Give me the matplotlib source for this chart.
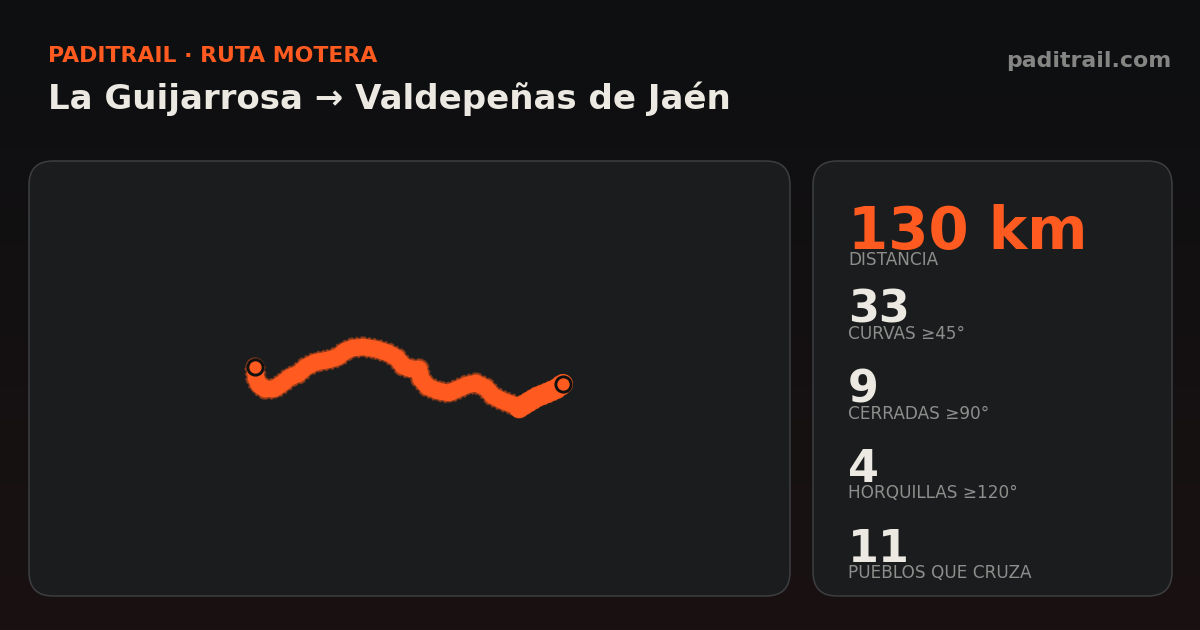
#!/usr/bin/env python3
import numpy as np
import matplotlib
matplotlib.use("Agg")
import matplotlib.pyplot as plt
from matplotlib.patches import FancyBboxPatch

# route, in image pixels
route_x = [255, 256, 259, 265, 274, 283, 290, 298, 306, 316, 328, 338, 345, 353, 363, 376, 388, 397, 403,
           411, 419, 421, 428, 438, 449, 458, 467, 476, 486, 493, 503, 514, 519, 527, 537, 547, 556, 563]
route_y = [367, 378, 385, 389, 389, 383, 377, 374, 367, 362, 360, 357, 351, 348, 347, 349, 353, 358, 366,
           369, 369, 379, 387, 391, 393, 389, 385, 383, 388, 396, 401, 405, 408, 403, 397, 393, 389, 384]

stat_values = ["130 km", "33", "9", "4", "11"]
stat_labels = ["DISTANCIA", "CURVAS ≥45°", "CERRADAS ≥90°", "HORQUILLAS ≥120°", "PUEBLOS QUE CRUZA"]
stat_value_y = [233, 310, 390, 470, 550]
stat_label_y = [260, 334, 414, 493, 573]

ORANGE = "#ff5a1f"
WHITE = "#ece9e2"
GREY = "#8e8e8c"

plt.rcParams['font.family'] = ['DejaVu Sans']

fig = plt.figure(figsize=(12, 6.3), dpi=100)
ax = fig.add_axes([0, 0, 1, 1])
ax.axis("off")

# page background, dark top fading to a warm black
top = np.array([13, 15, 17]) / 255
bottom = np.array([26, 18, 18]) / 255
grad = np.linspace(0, 1, 256)[:, None, None]
ax.imshow(top + (bottom - top) * grad, extent=(0, 1200, 630, 0), aspect="auto", zorder=0)
ax.set_xlim(0, 1200)
ax.set_ylim(630, 0)


def card(x, y, w, h):
    r = 24
    ax.add_patch(FancyBboxPatch((x + r, y + r), w - 2 * r, h - 2 * r,
                                boxstyle="round,pad=%d,rounding_size=%d" % (r, r),
                                fc="#1a1c1e", ec="#3c3e41", lw=1.1, zorder=1))


card(29, 161, 761, 435)
card(813, 161, 359, 435)

ax.text(48, 56, "PADITRAIL · RUTA MOTERA", color=ORANGE, fontsize=15.85, fontweight="bold", va="center")
ax.text(48, 99, "La Guijarrosa → Valdepeñas de Jaén", color=WHITE, fontsize=24.45, fontweight="bold", va="center")
ax.text(1171, 61, "paditrail.com", color="#858584", fontsize=15.8, fontweight="bold", va="center", ha="right")

# route: speckled dark fringe, then a solid core
ax.plot(route_x, route_y, color="#a8431a", lw=15.5, alpha=0.6, ls=(0, (0.12, 0.12)), zorder=2)
ax.plot(route_x, route_y, color="#d9501c", lw=14, alpha=0.5, solid_capstyle="round",
        solid_joinstyle="round", zorder=2)
ax.plot(route_x, route_y, color=ORANGE, lw=12, solid_capstyle="round", solid_joinstyle="round", zorder=3)
ax.plot(route_x[-6:], route_y[-6:], color=ORANGE, lw=14.5, solid_capstyle="round", zorder=3)

# start and end markers
ax.plot([route_x[0], route_x[-1]], [route_y[0], route_y[-1]], "o", ms=11, mfc=ORANGE, mec="#111111", mew=2.1, zorder=4)

for i in range(len(stat_values)):
    size = 41.6 if i == 0 else 32
    ax.text(848, stat_value_y[i], stat_values[i], color=ORANGE if i == 0 else WHITE,
            fontsize=size, fontweight="bold", va="center", zorder=5)
    ax.text(848, stat_label_y[i], stat_labels[i], color=GREY, fontsize=12.15, va="center", zorder=6)

fig.savefig("out.png", dpi=100)
